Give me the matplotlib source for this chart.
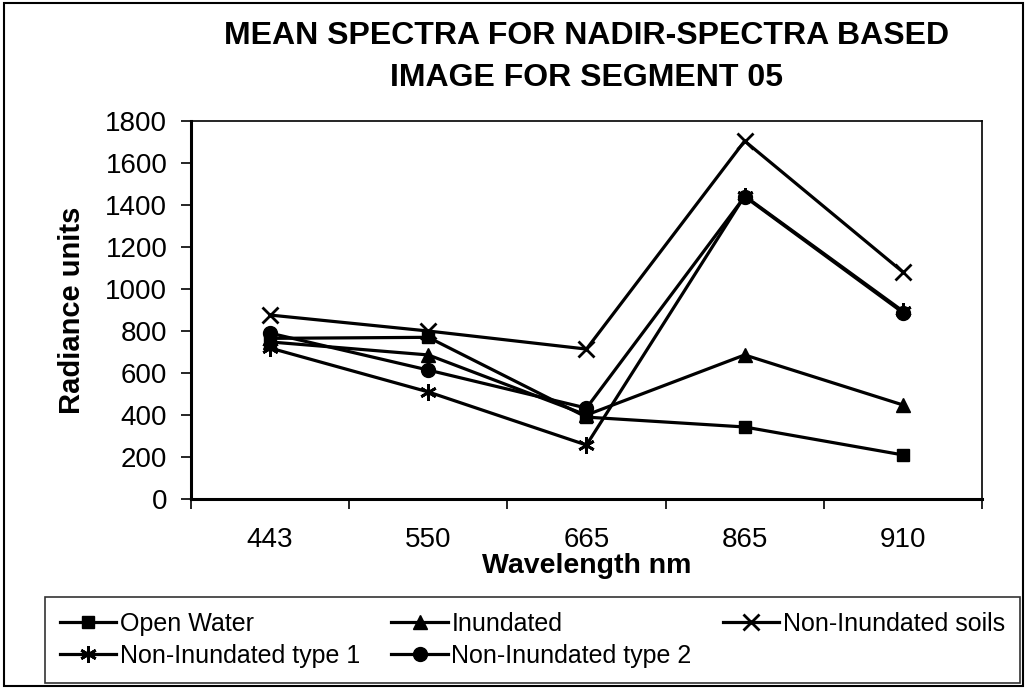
import matplotlib.pyplot as plt
from matplotlib.patches import Rectangle

plt.rcParams['font.family'] = ['Liberation Sans', 'DejaVu Sans']

wavelengths = ['443', '550', '665', '865', '910']
open_water = [765, 770, 390, 343, 210]
inundated = [748, 686, 400, 686, 448]
non_inundated_soils = [876, 800, 714, 1705, 1081]
non_inundated_t1 = [719, 510, 257, 1443, 895]
non_inundated_t2 = [790, 614, 433, 1440, 888]

fig = plt.figure(figsize=(10.25, 6.88), dpi=100)
ax = fig.add_axes([0.1863, 0.2747, 0.7717, 0.5494])

x = range(len(wavelengths))
kw = dict(color='black', linewidth=2.3)
l1, = ax.plot(x, open_water, marker='s', markersize=9, label='Open Water', **kw)
l2, = ax.plot(x, inundated, marker='^', markersize=10, label='Inundated', **kw)
l3, = ax.plot(x, non_inundated_soils, marker='x', markersize=11, markeredgewidth=2, label='Non-Inundated soils', **kw)
l4, = ax.plot(x, non_inundated_t1, marker=(6, 2, 0), markersize=12, markeredgewidth=2, label='Non-Inundated type 1', **kw)
l5, = ax.plot(x, non_inundated_t2, marker='o', markersize=10, label='Non-Inundated type 2', **kw)

ax.set_xlim(-0.5, 4.5)
ax.set_ylim(0, 1800)
ax.set_yticks(range(0, 1801, 200))
ax.set_xticks(list(x))
ax.set_xticklabels(wavelengths)
ax.set_xticks([i + 0.5 for i in range(-1, 5)], minor=True)
ax.tick_params(axis='x', which='major', length=0, labelsize=20, pad=20)
ax.tick_params(axis='x', which='minor', length=7, width=1.2, direction='out')
ax.tick_params(axis='y', labelsize=20, length=7, width=1.2, direction='out', pad=10)
for s in ax.spines.values():
    s.set_linewidth(1.2)
ax.spines['left'].set_linewidth(2.2)
ax.spines['bottom'].set_linewidth(2.2)

ax.set_xlabel('Wavelength nm', fontsize=20.5, fontweight='bold', labelpad=0)
ax.set_ylabel('Radiance units', fontsize=21, fontweight='bold', labelpad=14)
ax.set_title('MEAN SPECTRA FOR NADIR-SPECTRA BASED\nIMAGE FOR SEGMENT 05',
             fontsize=23, fontweight='bold', pad=25, linespacing=1.55)

# legend box: x 45..1020 px, top at 597 px
leg = fig.legend([l1, l4, l2, l5, l3],
                 ['Open Water', 'Non-Inundated type 1', 'Inundated', 'Non-Inundated type 2', 'Non-Inundated soils'],
                 ncol=3, loc='upper left', mode='expand',
                 bbox_to_anchor=(45 / 1025, 0.0, 975 / 1025, 1 - 597 / 688),
                 fontsize=18, frameon=True, fancybox=False, edgecolor='black', handlelength=2.25,
                 handletextpad=0.15, columnspacing=0.75, borderpad=0.6, labelspacing=0.3, borderaxespad=0)
leg.get_frame().set_linewidth(1.2)

fig.patches.append(Rectangle((0.004, 0.003), 0.994, 0.993, transform=fig.transFigure,
                             fill=False, edgecolor='black', linewidth=1.5))

fig.savefig('out.png', dpi=100)
